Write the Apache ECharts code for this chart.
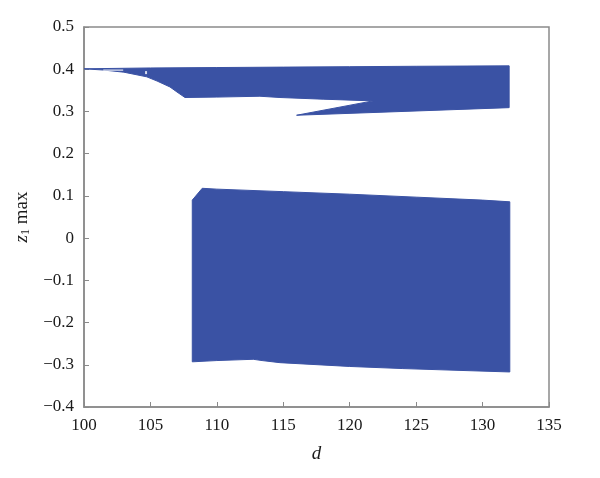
<!DOCTYPE html>
<html><head><meta charset="utf-8">
<script src="https://cdn.jsdelivr.net/npm/echarts@6/dist/echarts.min.js"></script>
<style>html,body{margin:0;padding:0;background:#fff}#c{width:600px;height:478px}</style>
</head><body><div id="c"></div>
<script>
// x tick labels and y tick labels
var xTicks = [100, 105, 110, 115, 120, 125, 130, 135];
var yTicks = [-0.4, -0.3, -0.2, -0.1, 0, 0.1, 0.2, 0.3, 0.4, 0.5];

// Upper (periodic-like) band outline: [d, z1 max]
var upperTopD = [100, 105, 110, 115, 120, 125, 132];
var upperTopZ = [0.401, 0.403, 0.404, 0.405, 0.406, 0.407, 0.408];
// lower boundary of upper band, from right end back to left, including wedge
var upperBottomD = [132, 116.0, 121.75, 118, 114.75, 113.24, 110, 107.6, 107.0, 106.47, 105.5, 104.72, 103, 101.5, 100];
var upperBottomZ = [0.309, 0.291, 0.325, 0.329, 0.333, 0.336, 0.334, 0.333, 0.346, 0.358, 0.372, 0.382, 0.393, 0.398, 0.401];

// Lower (chaotic) band outline
var lowerTopD = [108.15, 108.9, 110, 115, 120, 125, 130, 132.05];
var lowerTopZ = [0.090, 0.118, 0.116, 0.110, 0.104, 0.097, 0.090, 0.086];
var lowerBottomD = [132.05, 128, 124, 120, 114.75, 113.4, 112.74, 110, 108.15];
var lowerBottomZ = [-0.317, -0.313, -0.309, -0.304, -0.295, -0.290, -0.287, -0.290, -0.293];

// small white gaps inside upper band
var gapD = [101.45, 102.95];
var gapZ = [0.398, 0.398];
var holeD = [104.67];
var holeZ = [0.392];

var BLUE = '#3a52a4';

function zip(a, b) { return a.map(function (v, i) { return [v, b[i]]; }); }
var upperOutline = zip(upperTopD, upperTopZ).concat(zip(upperBottomD, upperBottomZ));
var lowerOutline = zip(lowerTopD, lowerTopZ).concat(zip(lowerBottomD, lowerBottomZ));

function polySeries(outline) {
  return {
    type: 'custom',
    data: outline,
    silent: true,
    renderItem: function (params, api) {
      if (params.dataIndex !== 0) return null;
      var pts = outline.map(function (p) { return api.coord(p); });
      return {
        type: 'polygon',
        shape: { points: pts },
        style: { fill: BLUE, stroke: BLUE, lineWidth: 1 }
      };
    },
    clip: true
  };
}

var FONT = 'Liberation Serif';
var chart = echarts.init(document.getElementById('c'));
chart.setOption({
  animation: false,
  grid: { left: 84, right: 51, top: 27, bottom: 71, show: true, borderColor: '#8a8a8a', borderWidth: 1.5 },
  xAxis: {
    type: 'value', min: xTicks[0], max: xTicks[xTicks.length - 1], interval: 5,
    name: 'd', nameLocation: 'middle', nameGap: 37,
    nameTextStyle: { fontFamily: FONT, fontStyle: 'italic', fontSize: 19, color: '#1a1a1a' },
    axisLine: { onZero: false, lineStyle: { color: '#8a8a8a', width: 1.5 } },
    axisTick: { inside: true, length: 5, lineStyle: { color: '#8a8a8a' } },
    axisLabel: { fontFamily: FONT, fontSize: 17, color: '#1a1a1a', margin: 10 },
    splitLine: { show: false }
  },
  yAxis: {
    type: 'value', min: yTicks[0], max: yTicks[yTicks.length - 1], interval: 0.1,
    name: '{i|z}{s|1}{n| max}', nameLocation: 'middle', nameGap: 45, nameRotate: 90,
    nameTextStyle: {
      fontFamily: FONT, fontSize: 18, color: '#1a1a1a',
      rich: {
        i: { fontFamily: FONT, fontStyle: 'italic', fontSize: 19, color: '#1a1a1a' },
        s: { fontFamily: FONT, fontSize: 12, color: '#1a1a1a', verticalAlign: 'bottom', padding: [8, 0, 0, 0] },
        n: { fontFamily: FONT, fontSize: 19, color: '#1a1a1a' }
      }
    },
    axisLine: { onZero: false, lineStyle: { color: '#8a8a8a', width: 1.5 } },
    axisTick: { inside: true, length: 5, lineStyle: { color: '#8a8a8a' } },
    axisLabel: {
      fontFamily: FONT, fontSize: 17, color: '#1a1a1a', margin: 10,
      formatter: function (v) {
        if (Math.abs(v) < 1e-9) return '0';
        return v.toFixed(1).replace('-', '\u2212');
      }
    },
    splitLine: { show: false }
  },
  series: [
    polySeries(upperOutline),
    polySeries(lowerOutline),
    { type: 'line', data: zip(gapD, gapZ), symbol: 'none', silent: true,
      lineStyle: { color: '#dfe3f0', width: 1.2 } },
    { type: 'scatter', data: zip(holeD, holeZ), symbol: 'rect', symbolSize: [2, 3], silent: true,
      itemStyle: { color: '#ffffff' } }
  ]
});
</script></body></html>
